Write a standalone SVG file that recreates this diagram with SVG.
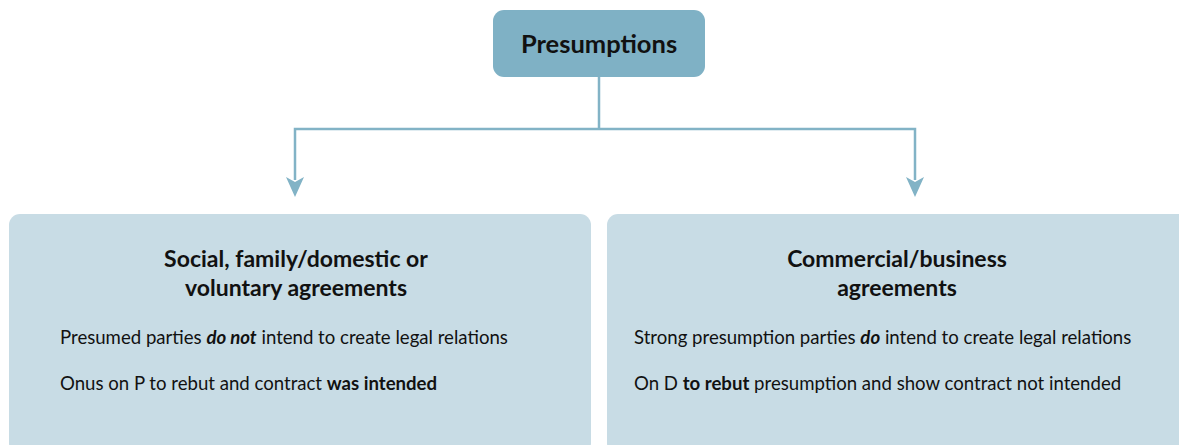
<svg xmlns="http://www.w3.org/2000/svg" width="1179" height="445" viewBox="0 0 1179 445">
<style>
.t{font-family:Lato,"Open Sans",sans-serif;fill:#111111}
.title{font-weight:bold;font-size:23px;text-anchor:middle}
.body{font-size:18.6px}
.conn{fill:none;stroke:#82b3c6;stroke-width:2.5}
.head{fill:#82b3c6}
</style>
<rect width="1179" height="445" fill="#ffffff"/>
<g id="connectors">
<path class="conn" d="M599,77 V129"/>
<path class="conn" d="M599,129 H295 V180"/>
<path class="conn" d="M599,129 H915 V180"/>
<path class="head" d="M286,177 L295,182 L304,177 L295,197 Z"/>
<path class="head" d="M906,177 L915,182 L924,177 L915,197 Z"/>
</g>
<g id="presumptions">
<rect x="493" y="10" width="212" height="67" rx="11" fill="#7fb1c5"/>
<text class="t" x="599" y="53" font-weight="bold" font-size="25.5" text-anchor="middle">Presumptions</text>
</g>
<g id="social">
<rect x="9" y="214" width="582" height="240" rx="11" fill="#c8dce5"/>
<text class="t title" x="296" y="267">Social, family/domestic or</text>
<text class="t title" x="296" y="296">voluntary agreements</text>
<text class="t body" x="60" y="344">Presumed parties <tspan font-weight="bold" font-style="italic">do not</tspan> intend to create legal relations</text>
<text class="t body" x="60" y="390">Onus on P to rebut and contract <tspan font-weight="bold">was intended</tspan></text>
</g>
<g id="commercial">
<rect x="607" y="214" width="590" height="240" rx="11" fill="#c8dce5"/>
<text class="t title" x="897" y="267">Commercial/business</text>
<text class="t title" x="897" y="296">agreements</text>
<text class="t body" x="634" y="344">Strong presumption parties <tspan font-weight="bold" font-style="italic">do</tspan> intend to create legal relations</text>
<text class="t body" x="634" y="390">On D <tspan font-weight="bold">to rebut</tspan> presumption and show contract not intended</text>
</g>
</svg>
